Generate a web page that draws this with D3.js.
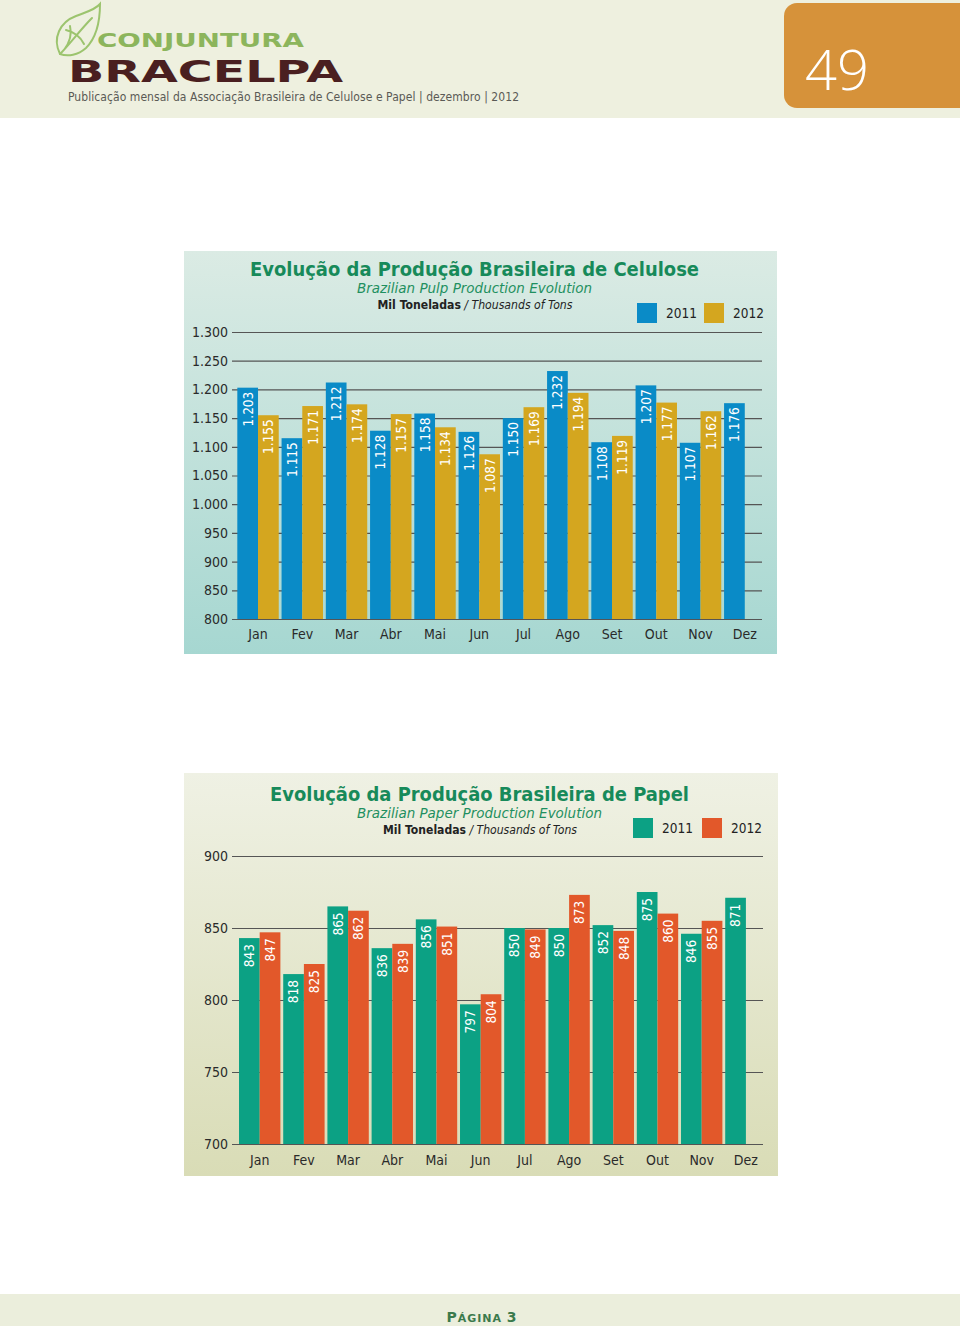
<!DOCTYPE html>
<html><head><meta charset="utf-8">
<script src="https://cdn.jsdelivr.net/npm/d3@7"></script>
<style>body{margin:0;background:#fff}svg{display:block}</style>
</head><body>
<svg id="page" width="960" height="1326"></svg>
<script>
const months = ["Jan","Fev","Mar","Abr","Mai","Jun","Jul","Ago","Set","Out","Nov","Dez"];
const seriesNames = ["2011","2012"];
const pulp2011 = [1203,1115,1212,1128,1158,1126,1150,1232,1108,1207,1107,1176];
const pulp2012 = [1155,1171,1174,1157,1134,1087,1169,1194,1119,1177,1162,null];
const pulpTicks = [800,850,900,950,1000,1050,1100,1150,1200,1250,1300];
const paper2011 = [843,818,865,836,856,797,850,850,852,875,846,871];
const paper2012 = [847,825,862,839,851,804,849,873,848,860,855,null];
const paperTicks = [700,750,800,850,900];

const pt = d3.formatLocale({decimal:",",thousands:".",grouping:[3],currency:["R$",""]});
const fmt = pt.format(",");
const svg = d3.select("#page");
const COND = "'DejaVu Sans Condensed','DejaVu Sans',sans-serif";
const defs = svg.append("defs");

// header
svg.append("rect").attr("x",0).attr("y",0).attr("width",960).attr("height",118).attr("fill","#eef0df");
svg.append("rect").attr("x",784).attr("y",3).attr("width",190).attr("height",105).attr("rx",13).attr("fill","#d6923a");
svg.append("text").attr("x",837).attr("y",90).attr("text-anchor","middle").attr("fill","#fff")
  .attr("font-family","'Open Sans',sans-serif").attr("font-size",56).attr("font-weight",300).text("49");
// leaf
const leaf = svg.append("g").attr("fill","none").attr("stroke","#9cc46e").attr("stroke-width",2).attr("stroke-linecap","round");
leaf.append("path").attr("d","M60,54 C52,38 60,22 76,16 C86,12 95,10 100,4 C100,22 96,38 86,48 C78,55 68,57 60,54 Z");
leaf.append("path").attr("d","M64,50 C70,42 72,34 70,26 M66,30 C74,32 80,36 84,44 M60,54 C70,44 80,30 92,18");
svg.append("text").attr("x",97).attr("y",47).attr("fill","#8cb55c").attr("font-family","'DejaVu Sans',sans-serif")
  .attr("font-weight","bold").attr("font-size",20).attr("textLength",207).attr("lengthAdjust","spacingAndGlyphs").text("CONJUNTURA");
svg.append("text").attr("x",68).attr("y",82).attr("fill","#4a1f20").attr("font-family","'DejaVu Sans',sans-serif")
  .attr("font-weight","bold").attr("font-size",31).attr("textLength",275).attr("lengthAdjust","spacingAndGlyphs").text("BRACELPA");
svg.append("text").attr("x",68).attr("y",101).attr("fill","#5a5a55").attr("font-family",COND)
  .attr("font-size",12).attr("textLength",451).attr("lengthAdjust","spacing")
  .text("Publicação mensal da Associação Brasileira de Celulose e Papel | dezembro | 2012");

// footer
svg.append("rect").attr("x",0).attr("y",1294).attr("width",960).attr("height",32).attr("fill","#ebeedc");
const ft = svg.append("text").attr("x",482).attr("y",1322).attr("text-anchor","middle").attr("fill","#3b7a4c")
  .attr("font-family","'DejaVu Sans',sans-serif").attr("font-weight","bold").attr("letter-spacing",1);
ft.append("tspan").attr("font-size",14).text("P");
ft.append("tspan").attr("font-size",11).text("ÁGINA ");
ft.append("tspan").attr("font-size",14).text("3");

function chart(cfg){
  const g = svg.append("g");
  const gid = "grad"+cfg.id;
  const lg = defs.append("linearGradient").attr("id",gid).attr("x1",0).attr("y1",0).attr("x2",0).attr("y2",1);
  lg.append("stop").attr("offset","0%").attr("stop-color",cfg.bg[0]);
  lg.append("stop").attr("offset","100%").attr("stop-color",cfg.bg[1]);
  g.append("rect").attr("x",cfg.px).attr("y",cfg.py).attr("width",cfg.pw).attr("height",cfg.ph).attr("fill",`url(#${gid})`);

  // titles
  g.append("text").attr("x",cfg.cx).attr("y",cfg.ty).attr("text-anchor","middle").attr("fill","#178a5a")
    .attr("font-family",COND).attr("font-weight","bold").attr("font-size",19)
    .attr("textLength",cfg.tl).attr("lengthAdjust","spacingAndGlyphs").text(cfg.title);
  g.append("text").attr("x",cfg.cx).attr("y",cfg.ty+17).attr("text-anchor","middle").attr("fill","#1f9060")
    .attr("font-family",COND).attr("font-style","italic").attr("font-size",14)
    .attr("textLength",cfg.sl).attr("lengthAdjust","spacingAndGlyphs").text(cfg.sub);
  const mt = g.append("text").attr("x",cfg.cx+0.5).attr("y",cfg.ty+33).attr("text-anchor","middle").attr("fill","#222")
    .attr("font-family",COND).attr("font-size",12).attr("textLength",cfg.ml).attr("lengthAdjust","spacingAndGlyphs");
  mt.append("tspan").attr("font-weight","bold").text("Mil Toneladas");
  mt.append("tspan").attr("font-style","italic").text(" / Thousands of Tons");

  // legend
  seriesNames.forEach((s,i)=>{
    const lx = cfg.legX[i];
    g.append("rect").attr("x",lx).attr("y",cfg.legY).attr("width",20).attr("height",20).attr("fill",cfg.colors[i]);
    g.append("text").attr("x",lx+29).attr("y",cfg.legY+10).attr("dy","0.35em").attr("fill","#222")
      .attr("font-family",COND).attr("font-size",13.5).text(s);
  });

  const y = d3.scaleLinear().domain(cfg.domain).range(cfg.yRange);
  const x0 = d3.scaleBand().domain(months).range(cfg.xRange).paddingInner(0.064).paddingOuter(0.032);
  const x1 = d3.scaleBand().domain(seriesNames).range([0,x0.bandwidth()]);

  // grid + ticks
  const axis = d3.axisLeft(y).tickValues(cfg.ticks).tickFormat(fmt).tickSize(-(cfg.gx2-cfg.gx1)).tickPadding(4);
  const ag = g.append("g").attr("transform",`translate(${cfg.gx1},0)`).call(axis);
  ag.select(".domain").remove();
  ag.selectAll(".tick line").attr("stroke","#555").attr("stroke-width",1.2);
  ag.selectAll(".tick text").attr("fill","#2a2a2a").attr("font-family",COND).attr("font-size",14);

  // bars
  const data = months.map((m,i)=>({m, vals:[cfg.s1[i],cfg.s2[i]]}));
  const grp = g.append("g").selectAll("g").data(data).join("g").attr("transform",d=>`translate(${x0(d.m)},0)`);
  const items = grp.selectAll("g").data(d=>d.vals.map((v,i)=>({v,s:seriesNames[i],i})).filter(e=>e.v!=null)).join("g");
  items.append("rect").attr("x",e=>x1(e.s)).attr("y",e=>y(e.v)).attr("width",x1.bandwidth())
    .attr("height",e=>y(cfg.domain[0])-y(e.v)).attr("fill",e=>cfg.colors[e.i]);
  items.append("text").attr("transform",e=>`translate(${x1(e.s)+x1.bandwidth()/2},${y(e.v)+cfg.lblGap}) rotate(-90)`)
    .attr("text-anchor","end").attr("dy","0.36em").attr("fill","#fff").attr("font-family",COND)
    .attr("font-size",13.5).text(e=>fmt(e.v));

  // month labels
  g.append("g").selectAll("text").data(months).join("text")
    .attr("x",m=>x0(m)+x0.bandwidth()/2).attr("y",cfg.my).attr("dy","0.35em").attr("text-anchor","middle")
    .attr("fill","#2a2a2a").attr("font-family",COND).attr("font-size",14).text(m=>m);
}

chart({id:1, px:184, py:251, pw:593, ph:403, bg:["#dbebe4","#a6d7d1"], cx:474.5, ty:276,
  title:"Evolução da Produção Brasileira de Celulose", tl:449,
  sub:"Brazilian Pulp Production Evolution", sl:235, ml:195,
  legX:[637,704], legY:303, colors:["#0a8bc7","#d4a61f"],
  domain:[800,1300], yRange:[619,332], ticks:pulpTicks, xRange:[235.9,766.9], gx1:232, gx2:762,
  s1:pulp2011, s2:pulp2012, lblGap:4, my:634});

chart({id:2, px:184, py:773, pw:594, ph:403, bg:["#eff1e4","#d9dcb6"], cx:479.5, ty:801,
  title:"Evolução da Produção Brasileira de Papel", tl:419,
  sub:"Brazilian Paper Production Evolution", sl:245, ml:194,
  legX:[633,702], legY:818, colors:["#0ca184","#e2582a"],
  domain:[700,900], yRange:[1144,856], ticks:paperTicks, xRange:[237.6,768], gx1:232, gx2:763,
  s1:paper2011, s2:paper2012, lblGap:6, my:1160});
</script>
</body></html>
